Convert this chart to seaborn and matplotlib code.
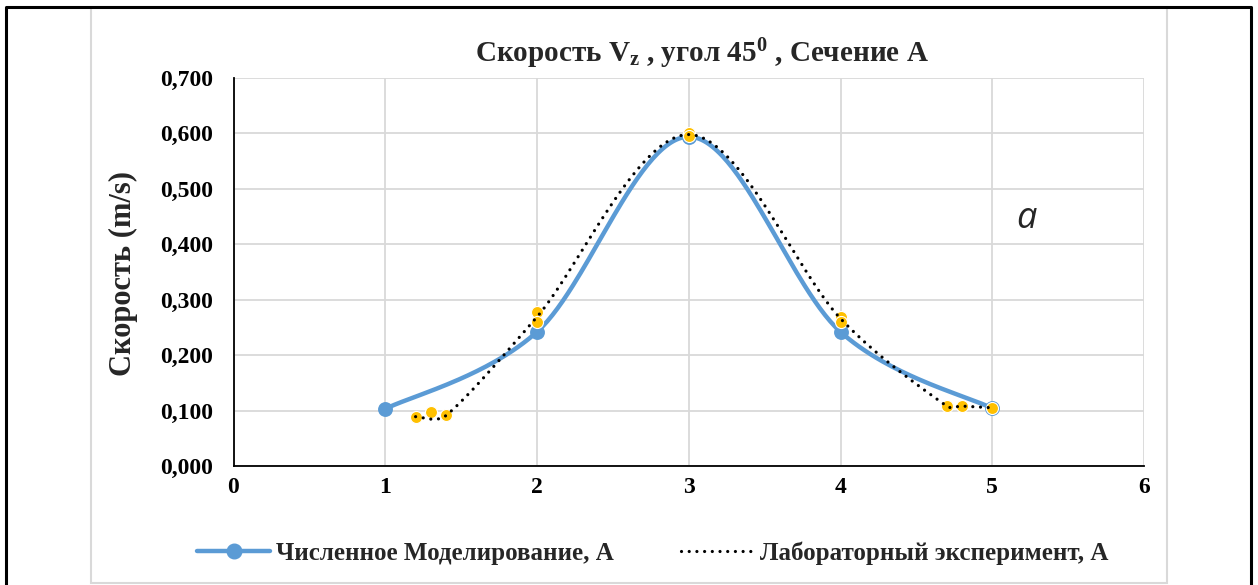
import numpy as np
import pandas as pd
import matplotlib
matplotlib.use("Agg")
import matplotlib.pyplot as plt
from matplotlib.lines import Line2D
from matplotlib.patches import Rectangle
import seaborn as sns

# --- data -------------------------------------------------------------
# numerical model (section A)
model_x = [1.0, 2.0, 3.0, 4.0, 5.0]
model_y = [0.103, 0.242, 0.594, 0.242, 0.104]

# laboratory experiment, averaged curve
lab_x = [1.2, 1.4, 2.0, 3.0, 4.0, 4.7, 4.8, 5.0]
lab_y = [0.089, 0.091, 0.269, 0.598, 0.266, 0.108, 0.108, 0.105]

# laboratory experiment, individual measurements
meas_x = [1.2, 1.3, 1.4, 2.0, 2.0, 3.0, 3.0, 4.0, 4.0, 4.7, 4.8, 5.0]
meas_y = [0.089, 0.097, 0.092, 0.277, 0.259, 0.600, 0.595, 0.269, 0.260, 0.108, 0.109, 0.105]

x_ticks = [0, 1, 2, 3, 4, 5, 6]
y_ticks = [0.0, 0.1, 0.2, 0.3, 0.4, 0.5, 0.6, 0.7]

title = r"Скорость V$_{\mathrm{z}}$ , угол 45$^{\mathrm{0}}$ , Сечение А"
y_label = "Скорость (m/s)"
model_label = "Численное Моделирование, А"
lab_label = "Лабораторный эксперимент, А"


def smooth(xs, ys, n=60, aspect=3.65, clip=0.4):
    """Smoothed line through the points: cubic Bezier segments with
    Catmull-Rom handles, shortened on short steps to avoid overshoot."""
    p = np.column_stack([xs, ys]).astype(float)
    ext = np.vstack([p[0], p, p[-1]])
    scale = np.array([1.0, aspect])
    t = np.linspace(0, 1, n)[:, None]

    def handle(vec, chord):
        h = vec / 6.0
        length = np.linalg.norm(h * scale)
        limit = clip * chord
        return h * (limit / length) if length > limit > 0 else h

    out = []
    for i in range(1, len(ext) - 2):
        p0, p1, p2, p3 = ext[i - 1], ext[i], ext[i + 1], ext[i + 2]
        chord = np.linalg.norm((p2 - p1) * scale)
        c1 = p1 + handle(p2 - p0, chord)
        c2 = p2 - handle(p3 - p1, chord)
        seg = ((1 - t) ** 3) * p1 + 3 * ((1 - t) ** 2) * t * c1 + 3 * (1 - t) * t ** 2 * c2 + t ** 3 * p2
        out.append(seg if i == 1 else seg[1:])
    seg = np.vstack(out)
    return pd.DataFrame({"x": seg[:, 0], "y": seg[:, 1]})


sns.set_theme(style="white")
plt.rcParams["font.family"] = ["Liberation Serif", "DejaVu Serif"]
plt.rcParams["font.weight"] = "bold"
plt.rcParams["mathtext.fontset"] = "custom"
plt.rcParams["mathtext.rm"] = "Liberation Serif:bold"
plt.rcParams["mathtext.it"] = "Liberation Serif:bold"
plt.rcParams["mathtext.bf"] = "Liberation Serif:bold"

W, H = 1258, 585
fig = plt.figure(figsize=(W / 100, H / 100), dpi=100)
ax = fig.add_axes([233.5 / W, 1 - 466 / H, (1144 - 233.5) / W, (466 - 78) / H])

blue = "#5B9BD5"
gold = "#FFC000"

# model curve and its points
sns.lineplot(data=smooth(model_x, model_y), x="x", y="y", sort=False, estimator=None,
             color=blue, linewidth=3.2, ax=ax, zorder=3)
sns.scatterplot(x=model_x, y=model_y, color=blue, s=115, edgecolor=blue, linewidth=0,
                ax=ax, zorder=4)

# measured points
sns.scatterplot(x=meas_x, y=meas_y, color=gold, s=75, edgecolor="white", linewidth=0.8,
                ax=ax, zorder=5)

# experiment curve (dotted)
sns.lineplot(data=smooth(lab_x, lab_y), x="x", y="y", sort=False, estimator=None,
             color="black", linewidth=2.3, ax=ax, zorder=6)
ax.lines[-1].set_linestyle((0, (0.01, 2.4)))
ax.lines[-1].set_dash_capstyle("round")

ax.set_xlim(0, 6)
ax.set_ylim(0, 0.7)
ax.set_xticks(x_ticks)
ax.set_yticks(y_ticks)
ax.set_xticklabels([str(v) for v in x_ticks])
ax.set_yticklabels([f"{v:.3f}".replace(".", ",") for v in y_ticks])
ax.tick_params(axis="both", length=0, labelsize=17, colors="black")
ax.tick_params(axis="y", pad=15)
ax.tick_params(axis="x", pad=8)
for lab in ax.get_xticklabels() + ax.get_yticklabels():
    lab.set_fontweight("bold")
ax.grid(True, color="#d9d9d9", linewidth=1.3)
ax.set_axisbelow(True)
for side in ("top", "right"):
    ax.spines[side].set_visible(False)
for side in ("left", "bottom"):
    ax.spines[side].set_color("black")
    ax.spines[side].set_linewidth(1.3)
ax.set_xlabel("")
ax.set_ylabel("")

fig.text(123 / W, 1 - 274 / H, y_label, rotation=90, ha="center", va="center",
         fontsize=22, fontweight="bold")
fig.text(702 / W, 1 - 54 / H, title, ha="center", va="center", fontsize=21, fontweight="bold")
fig.text(1026 / W, 1 - 219 / H, "a", ha="center", va="center", fontsize=26,
         family=["Open Sans", "Noto Sans", "DejaVu Sans"], style="italic", fontweight="normal")

handles = [
    Line2D([], [], color=blue, linewidth=3.2, marker="o", markersize=10.5),
    Line2D([], [], color="black", linewidth=2.3, linestyle=(0, (0.01, 2.4)),
           dash_capstyle="round"),
]
fig.legend(handles, [model_label, lab_label], loc="center", bbox_to_anchor=(653 / W, 1 - 553 / H),
           ncol=2, frameon=False, prop={"size": 18, "weight": "bold"}, handlelength=2.9,
           handletextpad=0.25, columnspacing=2.7)

# chart area border and outer frame
fig.add_artist(Rectangle((91 / W, 1 - 583 / H), (1167 - 91) / W, (583 - 7) / H,
                         transform=fig.transFigure, fill=False, edgecolor="#d9d9d9", linewidth=1.5))
fig.add_artist(Line2D([6 / W, 6 / W, 1250.5 / W, 1250.5 / W], [0, 1 - 6.5 / H, 1 - 6.5 / H, 0],
                      transform=fig.transFigure, color="black", linewidth=2.2))

fig.savefig("out.png", dpi=100, facecolor="white")
